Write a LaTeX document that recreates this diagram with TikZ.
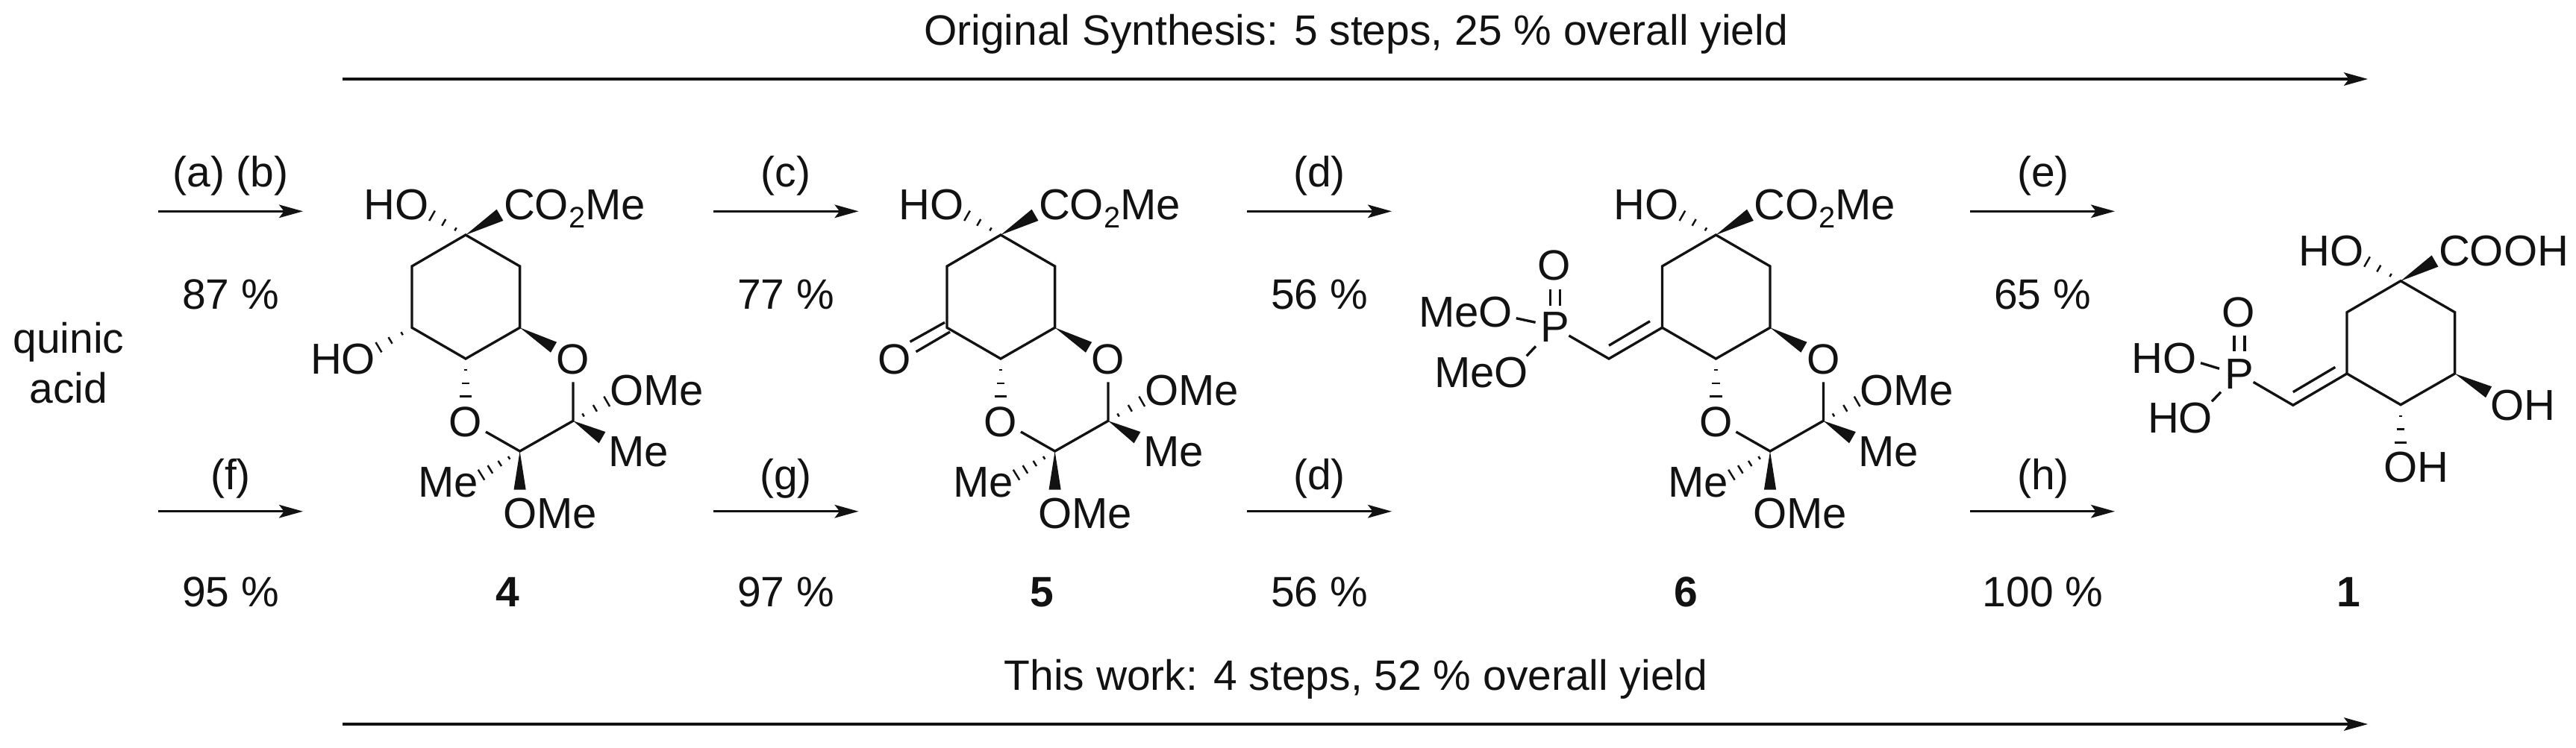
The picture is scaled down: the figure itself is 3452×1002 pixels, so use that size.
\documentclass[tikz,border=0pt]{standalone}
\usepackage{fontspec}
\setmainfont{Liberation Sans}
\usetikzlibrary{calc,arrows.meta}
\definecolor{ink}{gray}{0.07}
\tikzset{
  lbl/.style={inner sep=0pt,outer sep=0pt,text=ink,font=\fontsize{16.2pt}{19pt}\selectfont},
  lw/.style={lbl,anchor=base west,font=\fontsize{16.5pt}{19pt}\selectfont},
  lc/.style={lbl,anchor=base},
  cmpd/.style={lbl,anchor=base,font=\fontsize{16.2pt}{19pt}\selectfont\bfseries},
  bondl/.style={draw=ink,line width=0.95pt,line join=miter},
  hashl/.style={draw=ink,line width=0.7pt},
  wedgel/.style={fill=ink},
  rxn/.style={draw=ink,line width=0.9pt,-{Stealth[length=9.1pt,width=5pt,inset=1.9pt]}}
}
\newcommand\wedgeb[3]{\fill[wedgel] (#1) -- ($(#2)!#3!90:(#1)$) -- ($(#2)!#3!-90:(#1)$) -- cycle;}
\newcommand\hashb[4][{.3,.65,1}]{%
  \coordinate (hP) at ($(#3)!#4!90:(#2)$);
  \coordinate (hQ) at ($(#3)!#4!-90:(#2)$);
  \foreach \t in {#1}{\draw[hashl] ($(#2)!\t!(hP)$) -- ($(#2)!\t!(hQ)$);}}
\newcommand\CtwoMe{CO\raisebox{-3.3pt}{\fontsize{11.3pt}{12pt}\selectfont 2}Me}
% cyclohexane ring with the tertiary carbinol, in the frame of compound 4
\newcommand\ringcore[1]{%
  \coordinate (C1) at (624,315);
  \coordinate (C2) at (696.6,357);
  \coordinate (C3) at (696.6,439.3);
  \coordinate (C4) at (624,481);
  \coordinate (C5) at (552,439.3);
  \coordinate (C6) at (552,357);
  \coordinate (wa) at (670,288.3);
  \coordinate (ha) at (579,289.3);
  \draw[bondl] (C1) -- (C2) -- (C3) -- (C4) -- (C5) -- (C6) -- cycle;
  \node[lw] (hoa) at (487.5,294.3) {HO};
  \node[lw] (acid) at (675,294.3) {#1};
  \wedgeb{C1}{wa}{2.5pt}
  \hashb{C1}{ha}{2.2pt}
}
% dioxane ring shared by 4, 5 and 6
\newcommand\dioxane{%
  \node[lc] (oa) at (768,501.7) {O};
  \node[lc] (ob) at (624,585) {O};
  \node[lw] (ome1) at (817,543.3) {OMe};
  \node[lw] (me1) at (815,625) {Me};
  \node[lw] (me2) at (560,666.7) {Me};
  \node[lw] (ome2) at (674,708.3) {OMe};
  \coordinate (C7) at (768,564.3);
  \coordinate (C8) at (696.6,605);
  \coordinate (oaB) at (768,512.3);
  \coordinate (obB) at (651,579);
  \coordinate (wb) at (742,465.7);
  \coordinate (hb) at (624,531.7);
  \coordinate (hc) at (813.2,538.3);
  \coordinate (wc) at (807,586.7);
  \coordinate (hd) at (645,636.7);
  \coordinate (wd) at (696.6,656.7);
  \draw[bondl] (oaB) -- (C7) -- (C8) -- (obB);
  \wedgeb{C3}{wb}{2.3pt}
  \hashb{C4}{hb}{2.3pt}
  \hashb{C7}{hc}{2.2pt}
  \wedgeb{C7}{wc}{2.5pt}
  \hashb[{.28,.52,.77,1}]{C8}{hd}{2.3pt}
  \wedgeb{C8}{wd}{2.3pt}
}
\newcommand\rxnarrow[4]{%
  \coordinate (#1s) at (#2,#4);
  \coordinate (#1e) at (#3,#4);
  \draw[rxn] (#1s) -- (#1e);
}
\begin{document}
\begin{tikzpicture}[x=0.01cm,y=-0.01cm]
\useasboundingbox (0,0) rectangle (3452,1002);
\fill[white] (0,0) rectangle (3452,1002);

% headings and long arrows
\node[lc] (top) at (1817,60) {Original Synthesis: 5 steps, 25 \% overall yield};
\rxnarrow{lt}{459}{3173}{106}
\node[lc] (bot) at (1817,925) {This work: 4 steps, 52 \% overall yield};
\rxnarrow{lb}{459}{3173}{971}

% start
\node[lc] (q1) at (92,473) {quinic};
\node[lc] (q2) at (92,540) {acid};

% reaction arrows
\rxnarrow{a1}{212}{406}{283.3}
\rxnarrow{a2}{212}{406}{685.7}
\rxnarrow{a3}{956}{1150.5}{283.3}
\rxnarrow{a4}{956}{1150.5}{685.7}
\rxnarrow{a5}{1671}{1865}{283.3}
\rxnarrow{a6}{1671}{1865}{685.7}
\rxnarrow{a7}{2640}{2834}{283.3}
\rxnarrow{a8}{2640}{2834}{685.7}

\node[lc] (t1) at (309,250) {(a) (b)};
\node[lc] (y1) at (309,414.3) {87 \%};
\node[lc] (t2) at (309,656.7) {(f)};
\node[lc] (y2) at (309,813) {95 \%};
\node[lc] (t3) at (1053,250) {(c)};
\node[lc] (y3) at (1053,414.3) {77 \%};
\node[lc] (t4) at (1053,656.7) {(g)};
\node[lc] (y4) at (1053,813) {97 \%};
\node[lc] (t5) at (1768,250) {(d)};
\node[lc] (y5) at (1768,414.3) {56 \%};
\node[lc] (t6) at (1768,656.7) {(d)};
\node[lc] (y6) at (1768,813) {56 \%};
\node[lc] (t7) at (2738,250) {(e)};
\node[lc] (y7) at (2737,414.3) {65 \%};
\node[lc] (t8) at (2738,656.7) {(h)};
\node[lc] (y8) at (2737.5,813) {100 \%};

% compound numbers
\node[cmpd] (n4) at (680,813) {4};
\node[cmpd] (n5) at (1396,813) {5};
\node[cmpd] (n6) at (2259,813) {6};
\node[cmpd] (n1) at (3147,813) {1};

% compound 4
\begin{scope}[name prefix=d-]
  \ringcore{\CtwoMe}
  \dioxane
  \node[lw] (hoc) at (416,501.7) {HO};
  \coordinate (he) at (507.5,465.7);
  \hashb{C5}{he}{2.2pt}
\end{scope}

% compound 5
\begin{scope}[shift={(717,0)},name prefix=k-]
  \ringcore{\CtwoMe}
  \dioxane
\end{scope}
\node[lc] (k5o) at (1198.6,501.7) {O};
\coordinate (k5a) at (1273,445);
\coordinate (k5b) at (1227.5,471.7);
\coordinate (k5c) at (1266,432.3);
\coordinate (k5d) at (1219.5,458.3);
\draw[bondl] (k5a) -- (k5b);
\draw[bondl] (k5c) -- (k5d);

% compound 6
\begin{scope}[shift={(1675.4,0)},name prefix=p-]
  \ringcore{\CtwoMe}
  \dioxane
\end{scope}
\node[lw] (p6) at (2064.7,458.3) {P};
\node[lc] (p6o) at (2083,375.7) {O};
\node[lw] (p6m1) at (1901,438.3) {MeO};
\node[lw] (p6m2) at (1922,519) {MeO};
\coordinate (p6v) at (2156,481);
\coordinate (p6i1) at (2211,430.7);
\coordinate (p6i2) at (2156,463.3);
\coordinate (p6pb) at (2102.4,450);
\coordinate (p6d1) at (2077.5,388.3);
\coordinate (p6d2) at (2077.5,410);
\coordinate (p6d3) at (2090.4,388.3);
\coordinate (p6d4) at (2090.4,410);
\coordinate (p6a1) at (2031.7,426.7);
\coordinate (p6a2) at (2057.6,432.3);
\coordinate (p6b1) at (2058,464.3);
\coordinate (p6b2) at (2045.7,477.3);
\draw[bondl] (p-C5) -- (p6v) -- (p6pb);
\draw[bondl] (p6i1) -- (p6i2);
\draw[bondl] (p6d1) -- (p6d2);
\draw[bondl] (p6d3) -- (p6d4);
\draw[bondl] (p6a1) -- (p6a2);
\draw[bondl] (p6b1) -- (p6b2);

% compound 1
\begin{scope}[shift={(2593,61.7)},name prefix=f-]
  \ringcore{COOH}
  \coordinate (wb) at (742,464);
  \coordinate (hb) at (624,531.7);
  \wedgeb{C3}{wb}{2.4pt}
  \hashb{C4}{hb}{2.3pt}
\end{scope}
\node[lw] (f1oh) at (3337,563.3) {OH};
\node[lw] (f1ohb) at (3194,646.7) {OH};
\node[lw] (f1p) at (2981.7,521.7) {P};
\node[lc] (f1o) at (3000,438.3) {O};
\node[lw] (f1h1) at (2856.5,500.7) {HO};
\node[lw] (f1h2) at (2878,580.7) {HO};
\coordinate (f1v) at (3072.8,543.3);
\coordinate (f1i1) at (3129.3,492.3);
\coordinate (f1i2) at (3072.8,525.7);
\coordinate (f1pb) at (3019.6,512.3);
\coordinate (f1d1) at (2994,450);
\coordinate (f1d2) at (2994,470.7);
\coordinate (f1d3) at (3008,450);
\coordinate (f1d4) at (3008,470.7);
\coordinate (f1a1) at (2949,486.7);
\coordinate (f1a2) at (2974,494.3);
\coordinate (f1b1) at (2976,525.7);
\coordinate (f1b2) at (2964,538.3);
\draw[bondl] (f-C5) -- (f1v) -- (f1pb);
\draw[bondl] (f1i1) -- (f1i2);
\draw[bondl] (f1d1) -- (f1d2);
\draw[bondl] (f1d3) -- (f1d4);
\draw[bondl] (f1a1) -- (f1a2);
\draw[bondl] (f1b1) -- (f1b2);
\end{tikzpicture}
\end{document}
